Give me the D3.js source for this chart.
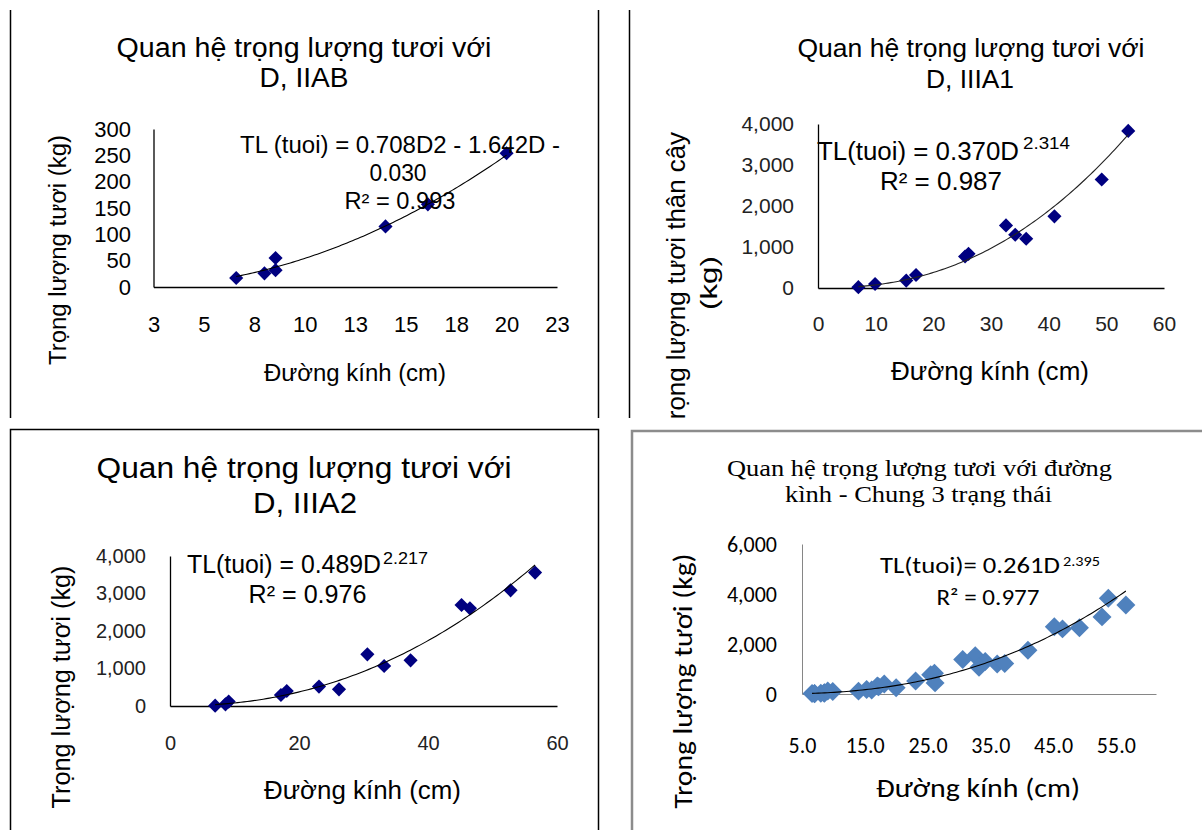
<!DOCTYPE html>
<html><head><meta charset="utf-8">
<script src="https://cdn.jsdelivr.net/npm/d3@7"></script>
<style>body{margin:0;background:#fff}svg{display:block}</style>
</head><body><svg id="c" width="1202" height="830"></svg>
<script>
// ---------------- DATA ----------------
// Panel 1: IIAB
const d1 = [6.6, 8.0, 8.55, 8.55, 14.0, 16.1, 20.0];
const w1 = [17, 26, 55, 32, 115, 157, 254];
// Panel 2: IIIA1
const d2 = [7.0, 9.9, 15.3, 17.0, 25.5, 26.1, 32.6, 34.2, 36.1, 41.0, 49.2, 53.8];
const w2 = [20, 98, 180, 318, 767, 833, 1527, 1299, 1201, 1748, 2647, 3831];
// Panel 3: IIIA2
const d3v = [7.0, 8.6, 9.1, 17.2, 18.1, 23.1, 26.2, 30.6, 33.2, 37.3, 45.2, 46.5, 52.8, 56.6];
const w3 = [10, 45, 117, 293, 400, 517, 445, 1378, 1067, 1218, 2693, 2605, 3085, 3557];
// Panel 4: all three states together
const d4 = d1.concat(d2, d3v);
const w4 = w1.concat(w2, w3);

// fitted trend lines (coefficients shown on chart)
const fit1 = [0.708, -1.642, -0.030];   // a*D^2 + b*D + c
const fit2 = [0.370, 2.314];            // a*D^b
const fit3 = [0.489, 2.217];
const fit4 = [0.261, 2.395];

// ticks
const xTicks1 = [2.5, 5, 7.5, 10, 12.5, 15, 17.5, 20, 22.5];
const xTickLabels1 = ["3", "5", "8", "10", "13", "15", "18", "20", "23"];
const yTicks1 = [0, 50, 100, 150, 200, 250, 300];
const xTicks2 = [0, 10, 20, 30, 40, 50, 60];
const yTicks2 = [0, 1000, 2000, 3000, 4000];
const xTicks3 = [0, 20, 40, 60];
const yTicks3 = [0, 1000, 2000, 3000, 4000];
const xTicks4 = [5, 15, 25, 35, 45, 55];
const yTicks4 = [0, 2000, 4000, 6000];

// texts
const title1 = ["Quan hệ trọng lượng tươi với", "D, IIAB"];
const title2 = ["Quan hệ trọng lượng tươi với", "D, IIIA1"];
const title3 = ["Quan hệ trọng lượng tươi với", "D, IIIA2"];
const title4 = ["Quan hệ trọng lượng tươi với đường", "kình - Chung 3 trạng thái"];
const eq1 = ["TL (tuoi) = 0.708D2 - 1.642D -", "0.030", "R² = 0.993"];
const eq2 = ["TL(tuoi) = 0.370D", "2.314", "R² = 0.987"];
const eq3 = ["TL(tuoi) = 0.489D", "2.217", "R² = 0.976"];
const eq4 = ["TL(tuoi)= 0.261D", "2.395", "R² = 0.977"];
const xTitle = "Đường kính (cm)";
const yTitle1 = "Trọng lượng tươi  (kg)";
const yTitle2 = ["Trọng lượng tươi thân cây", "(kg)"];
const yTitle3 = "Trọng lượng tươi (kg)";
const yTitle4 = "Trọng lượng tươi (kg)";

// ---------------- DRAWING ----------------
const svg = d3.select("#c");
const ARIAL = "'Liberation Sans', Arial, sans-serif";
const CALIBRI = "Carlito, Lato, 'Open Sans', sans-serif";
const TIMES = "'Liberation Serif', 'Times New Roman', serif";

function txt(g, s, x, y, o) {
  o = o || {};
  const t = g.append("text")
    .attr("font-family", o.family || ARIAL)
    .attr("font-size", o.size || 20)
    .attr("fill", o.fill || "#000")
    .attr("text-anchor", o.anchor || "middle")
    .text(s);
  if (o.rotate) t.attr("transform", `translate(${x},${y}) rotate(-90)`);
  else t.attr("x", x).attr("y", y);
  if (o.len) t.attr("textLength", o.len).attr("lengthAdjust", "spacingAndGlyphs");
  return t;
}

function block(g, lines, o) {
  const t = g.append("text")
    .attr("font-family", o.family || ARIAL)
    .attr("font-size", o.size)
    .attr("fill", "#000")
    .attr("text-anchor", o.anchor || "middle");
  lines.forEach(l => {
    const ts = t.append("tspan").attr("x", l.x).attr("y", l.y).text(l.s);
    if (l.len) ts.attr("textLength", l.len).attr("lengthAdjust", "spacingAndGlyphs");
  });
  return t;
}

function line(g, x1, y1, x2, y2, c, w) {
  g.append("line").attr("x1", x1).attr("y1", y1).attr("x2", x2).attr("y2", y2)
    .attr("stroke", c || "#000").attr("stroke-width", w || 1.5);
}

// frames
const fr = svg.append("g");
line(fr, 10.5, 10, 10.5, 418);
line(fr, 598.5, 10, 598.5, 418);
line(fr, 629.5, 10, 629.5, 418);
fr.append("rect").attr("x", 10.5).attr("y", 429.5).attr("width", 588).attr("height", 420)
  .attr("fill", "none").attr("stroke", "#000").attr("stroke-width", 1.5);
fr.append("rect").attr("x", 632).attr("y", 431).attr("width", 600).attr("height", 420)
  .attr("fill", "none").attr("stroke", "#8c8c8c").attr("stroke-width", 2.5);

function panel(cfg) {
  const g = svg.append("g");
  if (cfg.clip) {
    svg.append("clipPath").attr("id", cfg.clip.id).append("rect")
      .attr("x", cfg.clip.x).attr("y", cfg.clip.y).attr("width", cfg.clip.w).attr("height", cfg.clip.h);
    g.attr("clip-path", `url(#${cfg.clip.id})`);
  }
  const x = d3.scaleLinear().domain(cfg.xDom).range(cfg.xRange);
  const y = d3.scaleLinear().domain(cfg.yDom).range(cfg.yRange);
  const ax0 = cfg.xRange[0], ay0 = cfg.yRange[0];

  const xa = d3.axisBottom(x).tickValues(cfg.xTicks)
    .tickFormat((d, i) => cfg.xLabels ? cfg.xLabels[i] : cfg.xFmt(d))
    .tickSize(0).tickSizeOuter(0)
    .tickPadding(cfg.xTickBase - ay0 - 0.71 * cfg.tickSize);
  const gx = g.append("g").attr("transform", `translate(0,${ay0})`).call(xa);
  const ya = d3.axisLeft(y).tickValues(cfg.yTicks).tickFormat(cfg.yFmt)
    .tickSize(0).tickSizeOuter(0).tickPadding(ax0 - cfg.yTickRight);
  const gy = g.append("g").attr("transform", `translate(${ax0},0)`).call(ya);
  [gx, gy].forEach(a => {
    a.attr("font-family", cfg.tickFamily).attr("font-size", cfg.tickSize);
    a.select(".domain").attr("stroke", cfg.axisColor).attr("stroke-width", cfg.axisWidth);
    a.selectAll("text").attr("fill", cfg.tickColor);
  });

  const pts = cfg.d.map((v, i) => [v, cfg.w[i]]);
  const sym = d3.symbol().type(d3.symbolSquare).size(cfg.mSize);
  g.append("g").selectAll("path").data(pts).join("path")
    .attr("d", sym)
    .attr("transform", p => `translate(${x(p[0])},${y(p[1])}) rotate(45)`)
    .attr("fill", cfg.mColor);

  const lo = d3.min(cfg.d), hi = d3.max(cfg.d);
  const xs = d3.range(0, 101).map(i => lo + (hi - lo) * i / 100);
  g.append("path").datum(xs)
    .attr("d", d3.line().x(v => x(v)).y(v => y(cfg.fit(v))))
    .attr("fill", "none").attr("stroke", cfg.trendColor).attr("stroke-width", 1.1);
  return g;
}

// power-law equation block: main text + superscript + R² line in one text element
function powerEq(g, eq, o) {
  const t = g.append("text")
    .attr("font-family", o.family).attr("font-size", o.size).attr("fill", "#000");
  t.append("tspan").attr("x", o.x0).attr("y", o.y1).attr("text-anchor", "start")
    .attr("textLength", o.len1).attr("lengthAdjust", "spacingAndGlyphs").text(eq[0]);
  t.append("tspan").attr("x", o.xs).attr("y", o.ys).attr("text-anchor", "start")
    .attr("font-size", o.supSize)
    .attr("textLength", o.lenS).attr("lengthAdjust", "spacingAndGlyphs").text(eq[1]);
  t.append("tspan").attr("x", o.x2).attr("y", o.y2).attr("text-anchor", "middle")
    .attr("textLength", o.len2).attr("lengthAdjust", "spacingAndGlyphs").text(eq[2]);
}

// ---- Panel 1 ----
const g1 = panel({
  xDom: [2.5, 22.5], xRange: [153.5, 557], yDom: [0, 300], yRange: [287, 129],
  xTicks: xTicks1, xLabels: xTickLabels1, yTicks: yTicks1, yFmt: d3.format("d"),
  tickFamily: ARIAL, tickSize: 22, tickColor: "#000", axisColor: "#000", axisWidth: 1.3,
  xTickBase: 332, yTickRight: 131,
  d: d1, w: w1, mSize: 100, mColor: "#000080", trendColor: "#000",
  fit: v => fit1[0] * v * v + fit1[1] * v + fit1[2]
});
block(g1, [{s: title1[0], x: 304, y: 57, len: 375}, {s: title1[1], x: 304, y: 87, len: 89}], {size: 27});
block(g1, [{s: eq1[0], x: 400, y: 153, len: 320}, {s: eq1[1], x: 398, y: 181, len: 57},
           {s: eq1[2], x: 400, y: 209, len: 111}], {size: 23});
txt(g1, yTitle1, 66, 250, {size: 23, rotate: true, len: 230});
txt(g1, xTitle, 355, 381, {size: 23, len: 182});

// ---- Panel 2 ----
const g2 = panel({
  clip: {id: "cp2", x: 631, y: 0, w: 571, h: 418},
  xDom: [0, 60], xRange: [818, 1164], yDom: [0, 4000], yRange: [288, 124],
  xTicks: xTicks2, xFmt: d3.format("d"), yTicks: yTicks2, yFmt: d3.format(","),
  tickFamily: ARIAL, tickSize: 21, tickColor: "#222", axisColor: "#000", axisWidth: 1.3,
  xTickBase: 331, yTickRight: 794,
  d: d2, w: w2, mSize: 100, mColor: "#000080", trendColor: "#222",
  fit: v => fit2[0] * Math.pow(v, fit2[1])
});
block(g2, [{s: title2[0], x: 971, y: 57, len: 347}, {s: title2[1], x: 970, y: 88, len: 88}], {size: 26});
powerEq(g2, eq2, {family: ARIAL, size: 26, x0: 817, y1: 160, len1: 202, xs: 1023, ys: 149,
  supSize: 17, lenS: 47, x2: 941, y2: 190, len2: 122});
const yt2 = g2.append("text").attr("font-family", ARIAL).attr("font-size", 26).attr("fill", "#000")
  .attr("text-anchor", "middle").attr("transform", "translate(685,283) rotate(-90)");
yt2.append("tspan").attr("x", 0).attr("y", 0).attr("textLength", 302)
  .attr("lengthAdjust", "spacingAndGlyphs").text(yTitle2[0]);
yt2.append("tspan").attr("x", 0).attr("y", 32).attr("font-size", 24).attr("textLength", 54)
  .attr("lengthAdjust", "spacingAndGlyphs").text(yTitle2[1]);
txt(g2, xTitle, 990, 380, {size: 25, len: 198});

// ---- Panel 3 ----
const g3 = panel({
  xDom: [0, 60], xRange: [170, 557], yDom: [0, 4000], yRange: [706, 556],
  xTicks: xTicks3, xFmt: d3.format("d"), yTicks: yTicks3, yFmt: d3.format(","),
  tickFamily: ARIAL, tickSize: 20, tickColor: "#222", axisColor: "#000", axisWidth: 1.3,
  xTickBase: 750, yTickRight: 146,
  d: d3v, w: w3, mSize: 100, mColor: "#000080", trendColor: "#000",
  fit: v => fit3[0] * Math.pow(v, fit3[1])
});
block(g3, [{s: title3[0], x: 304, y: 478, len: 415}, {s: title3[1], x: 305, y: 513, len: 104}], {size: 29});
powerEq(g3, eq3, {family: ARIAL, size: 25, x0: 187, y1: 573, len1: 194, xs: 383, ys: 564,
  supSize: 16, lenS: 45, x2: 307.5, y2: 603, len2: 118});
txt(g3, yTitle3, 70, 687, {size: 26, rotate: true, len: 243});
txt(g3, xTitle, 362.5, 799, {size: 26, len: 197});

// ---- Panel 4 ----
const g4 = panel({
  xDom: [5, 61.4], xRange: [802, 1156], yDom: [0, 6000], yRange: [694, 544],
  xTicks: xTicks4, xFmt: d3.format(".1f"), yTicks: yTicks4, yFmt: d3.format(","),
  tickFamily: CALIBRI, tickSize: 22, tickColor: "#000", axisColor: "#868686", axisWidth: 1,
  xTickBase: 753, yTickRight: 777,
  d: d4, w: w4, mSize: 180, mColor: "#4F81BD", trendColor: "#000",
  fit: v => fit4[0] * Math.pow(v, fit4[1])
});
block(g4, [{s: title4[0], x: 919.5, y: 476, len: 385}, {s: title4[1], x: 918.5, y: 502, len: 267}],
  {size: 23.5, family: TIMES});
powerEq(g4, eq4, {family: CALIBRI, size: 22, x0: 880, y1: 573, len1: 180, xs: 1063, ys: 566,
  supSize: 15, lenS: 37, x2: 988, y2: 605, len2: 103});
txt(g4, yTitle4, 692, 681, {size: 26, family: CALIBRI, rotate: true, len: 255});
txt(g4, xTitle, 978, 797, {size: 26, family: CALIBRI, len: 204});
</script></body></html>
